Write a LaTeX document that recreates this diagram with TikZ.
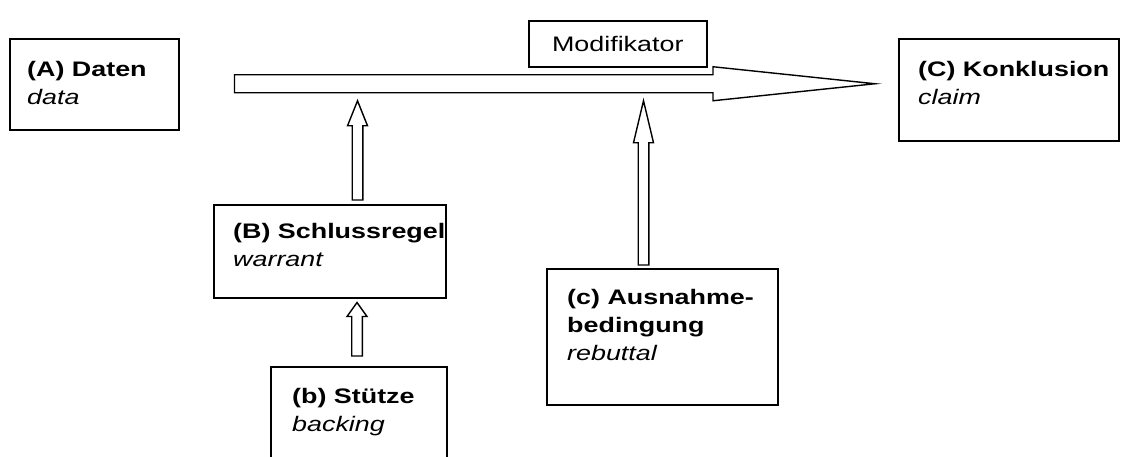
\documentclass[tikz,border=0pt]{standalone}
\usepackage{fontspec}
\setmainfont{Liberation Sans}[FakeStretch=1.28]
\usepackage{tikz}
\usetikzlibrary{calc,positioning}
\tikzset{
	card/.style={draw, line width=1.5pt, anchor=north west, inner sep=0pt, font=\fontsize{21}{28}\selectfont},
	cardtext/.style={anchor=north west, inner sep=0pt, align=left, font=\fontsize{21}{28}\selectfont},
	hollow/.style={draw, line width=1.4pt, fill=white},
}
\newcommand{\liftarrow}[3][25] % [head length]{foot}{tip}, hollow arrow pointing up
{
	\draw [hollow] ($(#2)+(-5.3,0)$) -- ($(#3)+(-5.3,#1)$) -- ($(#3)+(-10,#1)$) -- (#3) -- ($(#3)+(10,#1)$) -- ($(#3)+(5.3,#1)$) -- ($(#2)+(5.3,0)$) -- cycle;
}

\begin{document}
\begin{tikzpicture}[x=1pt, y=-1pt]
		\useasboundingbox (0,0) rectangle (1126,456);
		\clip (0,0) rectangle (1126,456);

		% the boxes
		\node [card, minimum width=169pt, minimum height=91pt] (data) at (9,38) {};
		\node [cardtext] (data-t) at ($(data.north west)+(18,23)$) {\textbf{(A) Daten}\\\textit{data}};
		\node [card, minimum width=220pt, minimum height=102pt] (claim) at (898,38) {};
		\node [cardtext] (claim-t) at ($(claim.north west)+(20,23)$) {\textbf{(C) Konklusion}\\\textit{claim}};
		\node [card, minimum width=178pt, minimum height=46pt] (qualifier) at (528,20) {Modifikator};
		\node [card, minimum width=232pt, minimum height=93pt] (warrant) at (213,204) {};
		\node [cardtext] (warrant-t) at ($(warrant.north west)+(20,19)$) {\textbf{(B) Schlussregel}\\\textit{warrant}};
		\node [card, minimum width=176pt, minimum height=120pt] (backing) at (270,366) {};
		\node [cardtext] (backing-t) at ($(backing.north west)+(22,22)$) {\textbf{(b) Stütze}\\\textit{backing}};
		\node [card, minimum width=231pt, minimum height=136pt] (rebuttal) at (546,268) {};
		\node [cardtext] (rebuttal-t) at ($(rebuttal.north west)+(21,21)$) {\textbf{(c) Ausnahme-}\\\textbf{bedingung}\\\textit{rebuttal}};

		% main arrow data -> claim
		\coordinate (shaftstart) at ($(data.east)+(55,-0.5)$);
		\coordinate (claimtip) at ($(claim.west |- shaftstart)+(-23,0)$);
		\draw [hollow] ($(shaftstart)+(0,-9)$) -- ($(claimtip)+(-162,-9)$) -- ($(claimtip)+(-162,-17)$) -- (claimtip) -- ($(claimtip)+(-162,17)$) -- ($(claimtip)+(-162,9)$) -- ($(shaftstart)+(0,9)$) -- cycle;

		% arrows up into the main arrow
		\coordinate (warrantfoot) at ($(warrant.north west)+(144.5,-4)$);
		\coordinate (warranttip) at ($(warrantfoot |- shaftstart)+(0,17)$);
		\liftarrow[25]{warrantfoot}{warranttip}
		\coordinate (backingfoot) at ($(backing.north west)+(87,-10)$);
		\coordinate (backingtip) at ($(backingfoot |- warrant.south)+(0,4)$);
		\liftarrow[14]{backingfoot}{backingtip}
		\coordinate (rebuttalfoot) at ($(rebuttal.north west)+(97.5,-3)$);
		\coordinate (rebuttaltip) at ($(rebuttalfoot |- shaftstart)+(0,17)$);
		\liftarrow[42]{rebuttalfoot}{rebuttaltip}
	\end{tikzpicture}
\end{document}
